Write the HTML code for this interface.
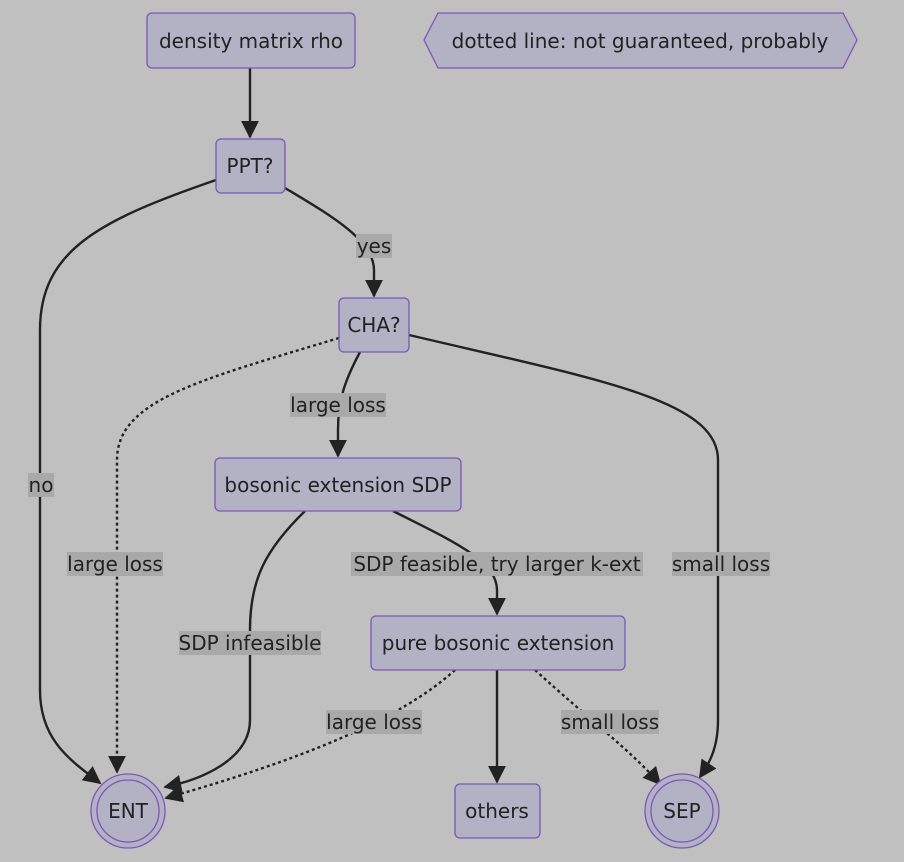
<!DOCTYPE html>
<html><head><style>
html,body{margin:0;padding:0;background:#c0c0c0;}
svg{display:block;font-family:"DejaVu Sans","Liberation Sans",sans-serif;}
.n{fill:#b3b1c4;stroke:#7858b8;stroke-width:1.3;}
.e{fill:none;stroke:#222;stroke-width:2.4;}
.d{fill:none;stroke:#222;stroke-width:2.4;stroke-dasharray:3,3;}
.t{font-size:20px;fill:#222;text-anchor:middle;dominant-baseline:central;}
.lb{fill:#a9a9a9;}
</style></head><body>
<svg width="904" height="862" viewBox="0 0 904 862">
<defs>
<marker id="b" viewBox="0 0 10 10" refX="9" refY="5" markerWidth="18" markerHeight="18" markerUnits="userSpaceOnUse" orient="auto"><path d="M0,0L10,5L0,10z" fill="#222"/></marker></defs>
<path class="e" d="M250,68 L250,137" marker-end="url(#b)"/>
<path class="e" d="M216,180 C100,220 40,250 40,330 L40,690 C40,740 70,760 100,783" marker-end="url(#b)"/>
<path class="e" d="M285,188 C330,215 374,240 374,270 L374,296" marker-end="url(#b)"/>
<path class="d" d="M339,338 C200,380 117,400 117,460 L117,772" marker-end="url(#b)"/>
<path class="e" d="M360,352 C345,380 338,400 338,430 L338,456" marker-end="url(#b)"/>
<path class="e" d="M409,335 C600,380 718,400 718,460 L718,720 C718,750 708,765 700,777" marker-end="url(#b)"/>
<path class="e" d="M305,511 C265,550 250,580 250,630 L250,720 C250,760 200,780 165,787" marker-end="url(#b)"/>
<path class="e" d="M393,511 C450,540 497,560 497,590 L497,614" marker-end="url(#b)"/>
<path class="d" d="M455,670 C400,720 300,760 166,798" marker-end="url(#b)"/>
<path class="e" d="M497,670 L497,782" marker-end="url(#b)"/>
<path class="d" d="M535,670 C590,720 630,750 660,784" marker-end="url(#b)"/>
<rect class="lb" x="28" y="473" width="26" height="24"/><text class="t" x="41" y="485">no</text>
<rect class="lb" x="356" y="234" width="36" height="24"/><text class="t" x="374" y="246">yes</text>
<rect class="lb" x="67" y="552" width="96" height="24"/><text class="t" x="115" y="564">large loss</text>
<rect class="lb" x="290" y="393" width="96" height="24"/><text class="t" x="338" y="405">large loss</text>
<rect class="lb" x="672" y="552" width="98" height="24"/><text class="t" x="721" y="564">small loss</text>
<rect class="lb" x="179" y="631" width="142" height="24"/><text class="t" x="250" y="643">SDP infeasible</text>
<rect class="lb" x="351" y="552" width="292" height="24"/><text class="t" x="497" y="564">SDP feasible, try larger k-ext</text>
<rect class="lb" x="326" y="710" width="96" height="24"/><text class="t" x="374" y="722">large loss</text>
<rect class="lb" x="561" y="710" width="98" height="24"/><text class="t" x="610" y="722">small loss</text>
<rect class="n" x="147" y="13" width="208" height="55" rx="5"/><text class="t" x="251" y="41">density matrix rho</text>
<polygon class="n" points="438,13 843,13 857,40 843,68 438,68 424,40"/><text class="t" x="640" y="41">dotted line: not guaranteed, probably</text>
<rect class="n" x="216" y="139" width="69" height="54" rx="5"/><text class="t" x="250" y="166">PPT?</text>
<rect class="n" x="339" y="298" width="70" height="54" rx="5"/><text class="t" x="374" y="325">CHA?</text>
<rect class="n" x="215" y="458" width="246" height="53" rx="5"/><text class="t" x="338" y="485">bosonic extension SDP</text>
<rect class="n" x="371" y="616" width="254" height="54" rx="5"/><text class="t" x="498" y="643">pure bosonic extension</text>
<rect class="n" x="455" y="784" width="85" height="54" rx="5"/><text class="t" x="497" y="811">others</text>
<circle class="n" cx="128" cy="811" r="37"/><circle class="n" cx="128" cy="811" r="31"/><text class="t" x="128" y="811">ENT</text>
<circle class="n" cx="682" cy="811" r="37"/><circle class="n" cx="682" cy="811" r="31"/><text class="t" x="682" y="811">SEP</text>
</svg>
</body></html>
